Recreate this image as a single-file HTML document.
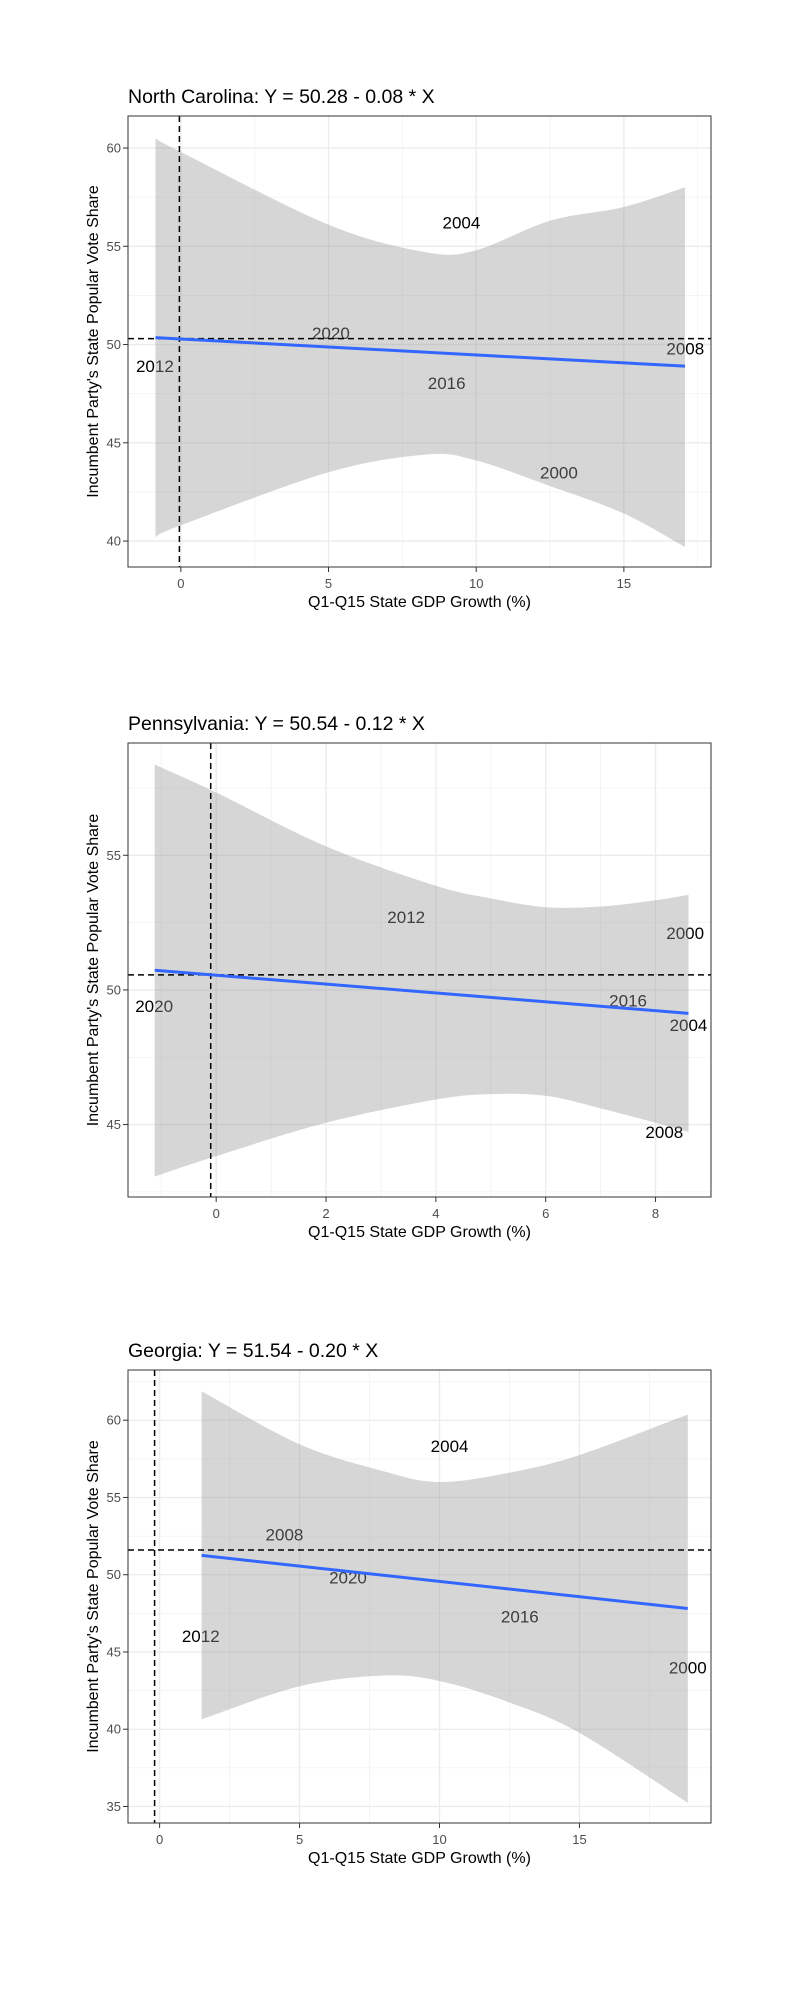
<!DOCTYPE html>
<html><head><meta charset="utf-8"><style>
html,body{margin:0;padding:0;background:#fff;}
svg{display:block;font-family:"Liberation Sans",Arial,sans-serif;}
</style></head><body>
<svg id="chart" width="800" height="2000" viewBox="0 0 800 2000" xmlns="http://www.w3.org/2000/svg"></svg>
<script>
// ---- North Carolina data ----
const ncBandX = [-0.86, 0, 5, 8.3, 10, 12.5, 15, 17.07];
const ncBandLo = [40.2, 40.8, 43.5, 44.4, 44.1, 42.8, 41.4, 39.7];
const ncBandHi = [60.5, 59.8, 56.1, 54.7, 54.8, 56.3, 57.0, 58.0];
const ncLineX = [-0.86, 17.07];
const ncLineY = [50.35, 48.9];
const ncLabels = ["2004", "2020", "2008", "2012", "2016", "2000"];
const ncLabelX = [9.5, 5.08, 17.08, -0.88, 9.0, 12.8];
const ncLabelY = [56.2, 50.6, 49.8, 48.9, 48.05, 43.5];
const ncVLine = -0.05, ncHLine = 50.3;
const ncXTicks = [0, 5, 10, 15];
const ncYTicks = [40, 45, 50, 55, 60];

// ---- Pennsylvania data ----
const paBandX = [-1.12, 0, 2, 4, 5, 6, 7, 8, 8.6];
const paBandLo = [43.07, 43.83, 45.07, 45.93, 46.13, 46.07, 45.6, 45.07, 44.73];
const paBandHi = [58.37, 57.33, 55.33, 53.87, 53.4, 53.07, 53.1, 53.33, 53.53];
const paLineX = [-1.12, 8.6];
const paLineY = [50.73, 49.13];
const paLabels = ["2012", "2000", "2020", "2016", "2004", "2008"];
const paLabelX = [3.46, 8.54, -1.13, 7.5, 8.6, 8.16];
const paLabelY = [52.71, 52.11, 49.4, 49.6, 48.7, 44.73];
const paVLine = -0.1, paHLine = 50.56;
const paXTicks = [0, 2, 4, 6, 8];
const paYTicks = [45, 50, 55];

// ---- Georgia data ----
const gaBandX = [1.5, 5, 8, 10, 12.5, 15, 18.87];
const gaBandLo = [40.64, 42.78, 43.47, 43.12, 41.73, 39.76, 35.23];
const gaBandHi = [61.88, 58.44, 56.7, 56.0, 56.6, 57.75, 60.37];
const gaLineX = [1.5, 18.87];
const gaLineY = [51.25, 47.81];
const gaLabels = ["2004", "2008", "2020", "2016", "2012", "2000"];
const gaLabelX = [10.36, 4.46, 6.73, 12.87, 1.47, 18.87];
const gaLabelY = [58.33, 52.6, 49.81, 47.3, 46.03, 44.0];
const gaVLine = -0.18, gaHLine = 51.6;
const gaXTicks = [0, 5, 10, 15];
const gaYTicks = [35, 40, 45, 50, 55, 60];

const NS = "http://www.w3.org/2000/svg";
const svg = document.getElementById("chart");
function mk(tag, attrs, parent) {
  const e = document.createElementNS(NS, tag);
  for (const k in attrs) e.setAttribute(k, attrs[k]);
  (parent || svg).appendChild(e);
  return e;
}
// Catmull-Rom smooth segment string through pts (excluding initial move)
function smooth(pts) {
  let d = "";
  for (let i = 0; i < pts.length - 1; i++) {
    const p0 = pts[Math.max(0, i - 1)], p1 = pts[i], p2 = pts[i + 1], p3 = pts[Math.min(pts.length - 1, i + 2)];
    const c1x = p1[0] + (p2[0] - p0[0]) / 6, c1y = p1[1] + (p2[1] - p0[1]) / 6;
    const c2x = p2[0] - (p3[0] - p1[0]) / 6, c2y = p2[1] - (p3[1] - p1[1]) / 6;
    d += "C" + c1x.toFixed(1) + "," + c1y.toFixed(1) + " " + c2x.toFixed(1) + "," + c2y.toFixed(1) + " " + p2[0].toFixed(1) + "," + p2[1].toFixed(1);
  }
  return d;
}

function drawPanel(p) {
  const g = mk("g", {});
  
  
  const L = 128, R = 711, T = p.top, B = p.bottom;
  const sx = v => L + (v - p.xd[0]) / (p.xd[1] - p.xd[0]) * (R - L);
  const sy = v => B - (v - p.yd[0]) / (p.yd[1] - p.yd[0]) * (B - T);

  const xStep = p.xTicks[1] - p.xTicks[0], yStep = p.yTicks[1] - p.yTicks[0];
  for (let v = p.xTicks[0] - xStep * 3 + xStep / 2; v < p.xd[1]; v += xStep) {
    if (v <= p.xd[0]) continue;
    const l = mk("line", {x1: sx(v), x2: sx(v), y1: T, y2: B, stroke: "#f2f2f2", "stroke-width": 0.8}, g);
    
    
  }
  for (let v = p.yTicks[0] - yStep * 3 + yStep / 2; v < p.yd[1]; v += yStep) {
    if (v <= p.yd[0]) continue;
    const l = mk("line", {x1: L, x2: R, y1: sy(v), y2: sy(v), stroke: "#f2f2f2", "stroke-width": 0.8}, g);
    
    
  }
  p.xTicks.forEach(v => {
    const l = mk("line", {x1: sx(v), x2: sx(v), y1: T, y2: B, stroke: "#ebebeb", "stroke-width": 1.3}, g);
    
    
    const t = mk("line", {x1: sx(v), x2: sx(v), y1: B, y2: B + 5, stroke: "#333", "stroke-width": 1}, g);
    
    
    const tx = mk("text", {x: sx(v), y: B + 21, "text-anchor": "middle", "font-size": 13, fill: "#4d4d4d"}, g);
    tx.textContent = v;
    
    
  });
  p.yTicks.forEach(v => {
    const l = mk("line", {x1: L, x2: R, y1: sy(v), y2: sy(v), stroke: "#ebebeb", "stroke-width": 1.3}, g);
    
    
    const t = mk("line", {x1: L - 5, x2: L, y1: sy(v), y2: sy(v), stroke: "#333", "stroke-width": 1}, g);
    
    
    const tx = mk("text", {x: L - 7, y: sy(v) + 4.5, "text-anchor": "end", "font-size": 13, fill: "#4d4d4d"}, g);
    tx.textContent = v;
    
    
  });
  p.labels.forEach((s, i) => {
    const tx = mk("text", {x: sx(p.labelX[i]), y: sy(p.labelY[i]) + 6, "text-anchor": "middle", "font-size": 17, fill: "#000"}, g);
    tx.textContent = s;
    
    
  });
  const hi = p.bandX.map((x, i) => [sx(x), sy(p.bandHi[i])]);
  const lo = p.bandX.map((x, i) => [sx(x), sy(p.bandLo[i])]).reverse();
  let d = "M" + hi[0][0].toFixed(1) + "," + hi[0][1].toFixed(1) + smooth(hi) +
          "L" + lo[0][0].toFixed(1) + "," + lo[0][1].toFixed(1) + smooth(lo) + "Z";
  const band = mk("path", {d: d, fill: "#999999", "fill-opacity": 0.4}, g);
  
  
  const vl = mk("line", {x1: sx(p.vline), x2: sx(p.vline), y1: T, y2: B, stroke: "#000", "stroke-width": 1.5, "stroke-dasharray": "6,4"}, g);
  
  
  const hl = mk("line", {x1: L, x2: R, y1: sy(p.hline), y2: sy(p.hline), stroke: "#000", "stroke-width": 1.5, "stroke-dasharray": "6,4"}, g);
  
  
  const rl = mk("line", {x1: sx(p.lineX[0]), y1: sy(p.lineY[0]), x2: sx(p.lineX[1]), y2: sy(p.lineY[1]), stroke: "#3366FF", "stroke-width": 3}, g);
  
  
  const bd = mk("rect", {x: L, y: T, width: R - L, height: B - T, fill: "none", stroke: "#333", "stroke-width": 1}, g);
  
  
  const tt = mk("text", {x: L, y: T - 13, "font-size": 19.5, fill: "#000"}, g);
  tt.textContent = p.title;
  
  
  const xt = mk("text", {x: (L + R) / 2, y: B + 40, "text-anchor": "middle", "font-size": 16, fill: "#000"}, g);
  xt.textContent = "Q1-Q15 State GDP Growth (%)";
  
  
  const cy = (T + B) / 2;
  const yt = mk("text", {x: 98, y: cy, "text-anchor": "middle", "font-size": 16, fill: "#000", transform: "rotate(-90 98 " + cy + ")"}, g);
  yt.textContent = "Incumbent Party's State Popular Vote Share";
  
  
}

drawPanel({name: "north-carolina", title: "North Carolina: Y = 50.28 - 0.08 * X", top: 116, bottom: 567,
  xd: [-1.79, 17.95], yd: [38.68, 61.63], xTicks: ncXTicks, yTicks: ncYTicks,
  bandX: ncBandX, bandLo: ncBandLo, bandHi: ncBandHi, lineX: ncLineX, lineY: ncLineY,
  labels: ncLabels, labelX: ncLabelX, labelY: ncLabelY, vline: ncVLine, hline: ncHLine});
drawPanel({name: "pennsylvania", title: "Pennsylvania: Y = 50.54 - 0.12 * X", top: 743, bottom: 1197,
  xd: [-1.606, 9.01], yd: [42.31, 59.17], xTicks: paXTicks, yTicks: paYTicks,
  bandX: paBandX, bandLo: paBandLo, bandHi: paBandHi, lineX: paLineX, lineY: paLineY,
  labels: paLabels, labelX: paLabelX, labelY: paLabelY, vline: paVLine, hline: paHLine});
drawPanel({name: "georgia", title: "Georgia: Y = 51.54 - 0.20 * X", top: 1370, bottom: 1823,
  xd: [-1.13, 19.7], yd: [33.93, 63.25], xTicks: gaXTicks, yTicks: gaYTicks,
  bandX: gaBandX, bandLo: gaBandLo, bandHi: gaBandHi, lineX: gaLineX, lineY: gaLineY,
  labels: gaLabels, labelX: gaLabelX, labelY: gaLabelY, vline: gaVLine, hline: gaHLine});
</script>
</body></html>
